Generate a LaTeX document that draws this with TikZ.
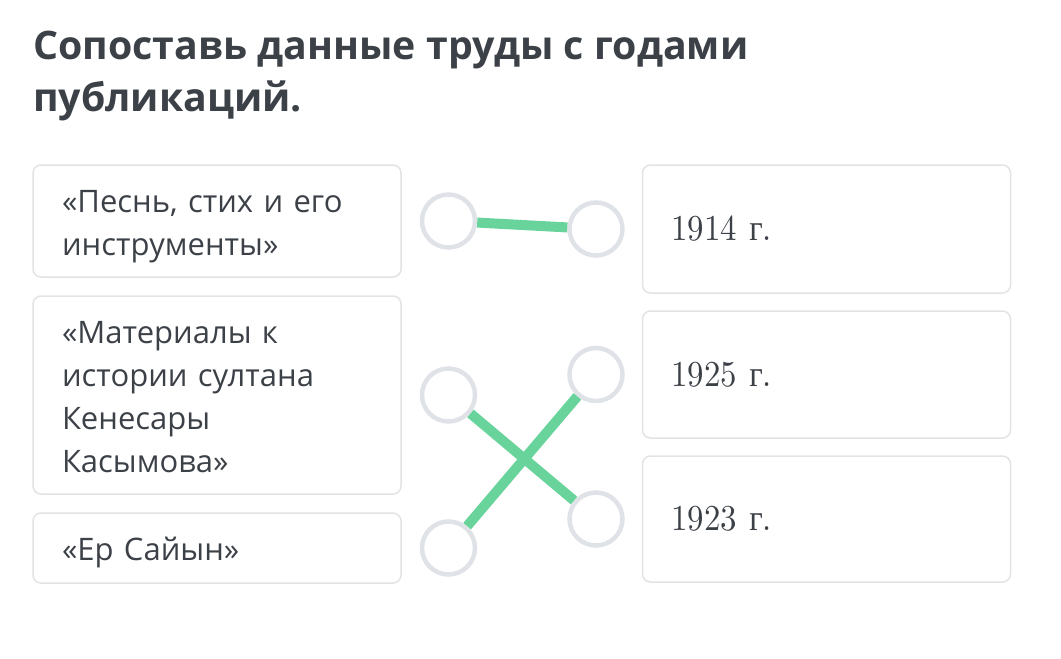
\documentclass[tikz,border=0pt]{standalone}
\usepackage{fontspec}
\usepackage{tikz}
\usetikzlibrary{positioning}
\newfontfamily\opensans{Open Sans}
\newfontfamily\yearfont[FakeStretch=0.9]{lmroman10-regular.otf}
\newfontfamily\cyrserif[FakeStretch=0.9]{Liberation Serif}
\definecolor{ink}{HTML}{3C4148}
\definecolor{boxgray}{HTML}{E2E3E5}
\definecolor{dotgray}{HTML}{DFE2E6}
\definecolor{matchgreen}{HTML}{68D39A}
\newcommand\yr[1]{#1 {\cyrserif г}.}

\begin{document}
\begin{tikzpicture}[x=1pt,y=-1pt,
    box/.style={draw=boxgray,line width=1.5pt,rounded corners=8pt,minimum width=368pt,
      text width=310pt,align=left,inner xsep=29pt,inner ysep=0pt,text=ink},
    work/.style={box,font=\opensans\fontsize{31}{43}\selectfont,
      execute at begin node={\rule{0pt}{34pt}},
      execute at end node={\rule[-9pt]{0pt}{9pt}}},
    year/.style={box,font=\yearfont\fontsize{36.5}{40}\selectfont},
    dot/.style={circle,draw=dotgray,line width=4.5pt,minimum size=53pt,inner sep=0pt},
    match/.style={draw=matchgreen,line width=10pt}]
      \useasboundingbox (0,0) rectangle (1061,659);
      \node[anchor=north west,inner sep=0pt,align=left,text=ink,
        font=\opensans\bfseries\fontsize{39.3}{52}\selectfont] (title) at (33,31)
        {Сопоставь данные труды с годами\\публикаций.};

      \node[work,minimum height=112pt] (p1) at (217,221) {«Песнь, стих и его\\инструменты»};
      \node[work,minimum height=198pt] (p2) at (217,395) {«Материалы к\\истории султана\\Кенесары\\Касымова»};
      \node[work,minimum height=70pt] (p3) at (217,548) {«Ер Сайын»};

      \node[year,minimum height=128pt] (y1) at (826.5,229) {\yr{1914}};
      \node[year,minimum height=127pt] (y2) at (826.5,374.5) {\yr{1925}};
      \node[year,minimum height=126pt] (y3) at (826.5,519) {\yr{1923}};

      \node[dot,right=18pt of p1] (l1) {};
      \node[dot,right=18pt of p2] (l2) {};
      \node[dot,right=18pt of p3] (l3) {};
      \node[dot,left=17pt of y1] (r1) {};
      \node[dot,left=17pt of y2] (r2) {};
      \node[dot,left=17pt of y3] (r3) {};

      \draw[match] (l1) -- (r1);
      \draw[match] (l2) -- (r3);
      \draw[match] (l3) -- (r2);
    \end{tikzpicture}
\end{document}
